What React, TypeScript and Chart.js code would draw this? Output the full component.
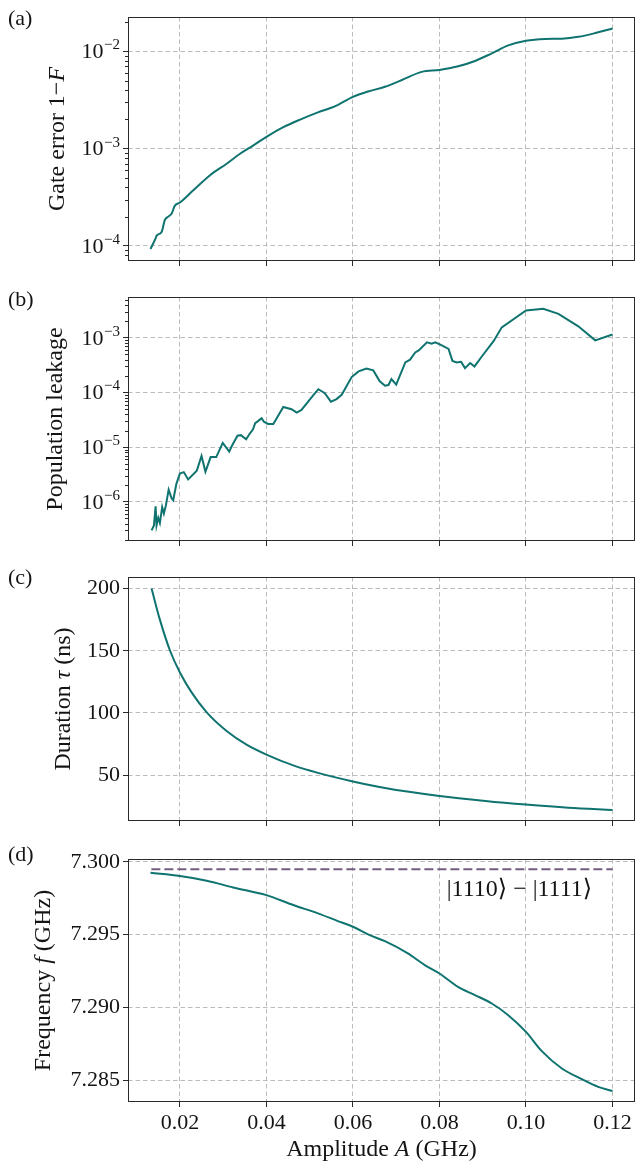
import React, { useEffect, useRef } from 'react';
import { Chart, registerables } from 'chart.js';

Chart.register(...registerables);

const TEAL = '#0f736f';
const PURPLE = '#735d80';
const GRID = '#b3b3b3';
const FRAME = '#2a2a2a';
const TEXT = '#141414';
const SERIF = '"Liberation Serif", "DejaVu Serif", serif';
const CLEAR = 'rgba(0,0,0,0)';

// shared x axis
const xTicks = [0.02, 0.04, 0.06, 0.08, 0.1, 0.12];
const xTickLabels = ['0.02', '0.04', '0.06', '0.08', '0.10', '0.12'];

// (a) gate error
const ampErr = [0.0132, 0.0144, 0.0146, 0.0158, 0.0165, 0.0173, 0.0181, 0.0188, 0.02, 0.0231, 0.0269, 0.0308, 0.0339, 0.037, 0.0401, 0.0439, 0.0478, 0.0519, 0.0558, 0.06, 0.0635, 0.0674, 0.0712, 0.0759, 0.08, 0.0841, 0.0882, 0.0921, 0.0959, 0.1, 0.1044, 0.1083, 0.1121, 0.116, 0.12];
const gateErr = [9.3e-5, 1.2e-4, 1.27e-4, 1.4e-4, 1.84e-4, 2.0e-4, 2.15e-4, 2.58e-4, 2.79e-4, 3.73e-4, 5.3e-4, 7.0e-4, 8.85e-4, 1.08e-3, 1.33e-3, 1.66e-3, 1.99e-3, 2.36e-3, 2.72e-3, 3.41e-3, 3.87e-3, 4.32e-3, 5.05e-3, 6.15e-3, 6.44e-3, 6.97e-3, 7.96e-3, 9.55e-3, 1.15e-2, 1.285e-2, 1.34e-2, 1.35e-2, 1.41e-2, 1.54e-2, 1.72e-2];
const errMajor = [1e-4, 1e-3, 1e-2];
const errExp = ['\u22124', '\u22123', '\u22122'];

// (b) population leakage
const ampLeak = [0.01345, 0.014, 0.01438, 0.0146, 0.015, 0.01537, 0.0159, 0.0163, 0.01676, 0.0174, 0.0181, 0.01845, 0.0192, 0.02, 0.0209, 0.0219, 0.0239, 0.025, 0.0259, 0.0271, 0.0284, 0.0299, 0.0314, 0.032, 0.0333, 0.0341, 0.0353, 0.0361, 0.0369, 0.0374, 0.0379, 0.0384, 0.0389, 0.0394, 0.0404, 0.0416, 0.0439, 0.0458, 0.047, 0.0481, 0.0509, 0.052, 0.0535, 0.0549, 0.0562, 0.0574, 0.0597, 0.0613, 0.0631, 0.0647, 0.0662, 0.0674, 0.0682, 0.0689, 0.07, 0.0721, 0.0732, 0.0744, 0.0752, 0.0771, 0.0782, 0.079, 0.0802, 0.0821, 0.083, 0.084, 0.085, 0.0859, 0.0871, 0.0881, 0.0897, 0.0925, 0.0944, 0.1, 0.104, 0.1075, 0.1121, 0.116, 0.12];
const leakage = [3.0e-7, 3.7e-7, 8.3e-7, 3.7e-7, 5.1e-7, 4.1e-7, 8.0e-7, 6.1e-7, 8.6e-7, 1.67e-6, 1.15e-6, 1.07e-6, 2.16e-6, 3.3e-6, 3.5e-6, 2.57e-6, 3.7e-6, 6.9e-6, 3.55e-6, 6.6e-6, 6.6e-6, 1.2e-5, 8.3e-6, 1.05e-5, 1.62e-5, 1.66e-5, 1.39e-5, 1.74e-5, 2.13e-5, 2.75e-5, 2.93e-5, 3.16e-5, 3.4e-5, 2.93e-5, 2.66e-5, 2.66e-5, 5.45e-5, 4.95e-5, 4.3e-5, 4.8e-5, 9.1e-5, 1.15e-4, 9.75e-5, 6.8e-5, 7.6e-5, 9.1e-5, 1.92e-4, 2.44e-4, 2.76e-4, 2.54e-4, 1.6e-4, 1.33e-4, 1.37e-4, 1.76e-4, 1.39e-4, 3.56e-4, 4.0e-4, 5.4e-4, 5.9e-4, 8.3e-4, 7.85e-4, 8.3e-4, 7.5e-4, 6.3e-4, 3.8e-4, 3.56e-4, 3.66e-4, 2.8e-4, 3.47e-4, 3.0e-4, 4.47e-4, 8.7e-4, 1.56e-3, 3.18e-3, 3.41e-3, 2.76e-3, 1.63e-3, 9.0e-4, 1.15e-3];
const leakMajor = [1e-6, 1e-5, 1e-4, 1e-3];
const leakExp = ['\u22126', '\u22125', '\u22124', '\u22123'];

// (c) duration
const ampDur = [0.01345, 0.01537, 0.0177, 0.02, 0.0227, 0.0262, 0.0308, 0.0354, 0.04, 0.0462, 0.0519, 0.06, 0.0674, 0.08, 0.0906, 0.1, 0.1098, 0.12];
const duration = [200, 175, 150.2, 132.5, 116.5, 100.5, 85.5, 74.5, 66.5, 57.8, 51.8, 44.9, 39.6, 33.2, 29.2, 26.3, 23.8, 22.0];
const durTicks = [50, 100, 150, 200];
const durLabels = ['50', '100', '150', '200'];

// (d) frequency
const ampFreq = [0.0132, 0.02, 0.0262, 0.0323, 0.04, 0.0462, 0.0519, 0.0565, 0.06, 0.0635, 0.0674, 0.0727, 0.0766, 0.08, 0.0843, 0.0882, 0.0921, 0.0959, 0.1, 0.1036, 0.1083, 0.1129, 0.1167, 0.12];
const frequency = [7.29924, 7.29902, 7.2987, 7.29824, 7.29771, 7.29703, 7.29646, 7.29593, 7.29554, 7.29501, 7.29455, 7.29371, 7.29291, 7.29233, 7.29141, 7.29085, 7.29027, 7.28947, 7.28832, 7.28702, 7.28581, 7.28508, 7.28455, 7.28427];
const ampRef = [0.0134, 0.12];
const freqRef = [7.29948, 7.29948];
const freqTicks = [7.285, 7.29, 7.295, 7.3];
const freqLabels = ['7.285', '7.290', '7.295', '7.300'];

type Seg = { t: string; i?: boolean };

interface PanelCfg {
  top: number;
  height: number;
  padTop: number;
  xAxisH: number;
  label: string;
  labelY: number;
  yTitle: Seg[];
  yTitleX: number;
  xTitle?: Seg[];
  xTitleY?: number;
  showXLabels: boolean;
  log: boolean;
  yMin: number;
  yMax: number;
  yTicks: number[];
  yLabels: string[];
  logExp?: string[];
  datasets: any[];
  annotation?: { text: string; x: number; y: number };
}

const toPts = (xs: number[], ys: number[]) => xs.map((x, i) => ({ x, y: ys[i] }));

function logMinors(min: number, max: number): number[] {
  const out: number[] = [];
  for (let e = Math.floor(Math.log10(min)); e <= Math.ceil(Math.log10(max)); e++) {
    for (let k = 2; k <= 9; k++) {
      const v = k * Math.pow(10, e);
      if (v >= min && v <= max) out.push(v);
    }
  }
  return out;
}

function drawSegs(ctx: CanvasRenderingContext2D, segs: Seg[], x: number, y: number, rot: number, size: number) {
  ctx.save();
  ctx.translate(x, y);
  ctx.rotate(rot);
  ctx.textBaseline = 'middle';
  ctx.textAlign = 'left';
  ctx.fillStyle = TEXT;
  const fontOf = (s: Seg) => `${s.i ? 'italic ' : ''}${size}px ${SERIF}`;
  let total = 0;
  const widths = segs.map((s) => {
    ctx.font = fontOf(s);
    const w = ctx.measureText(s.t).width;
    total += w;
    return w;
  });
  let cx = -total / 2;
  segs.forEach((s, i) => {
    ctx.font = fontOf(s);
    ctx.fillText(s.t, cx, 0);
    cx += widths[i];
  });
  ctx.restore();
}

function decoPlugin(cfg: PanelCfg, minors: number[]) {
  return {
    id: 'deco',
    afterDraw(chart: any) {
      const ctx: CanvasRenderingContext2D = chart.ctx;
      const ca = chart.chartArea;
      const ys = chart.scales.y;
      const xs = chart.scales.x;
      ctx.save();
      ctx.setLineDash([]);
      ctx.strokeStyle = FRAME;
      ctx.lineWidth = 1;
      ctx.strokeRect(Math.round(ca.left) + 0.5, Math.round(ca.top) + 0.5, Math.round(ca.right - ca.left) - 1, Math.round(ca.bottom - ca.top) - 1);
      // minor ticks on log axes
      minors.forEach((v) => {
        const y = Math.round(ys.getPixelForValue(v)) + 0.5;
        ctx.beginPath();
        ctx.moveTo(ca.left - 3, y);
        ctx.lineTo(ca.left, y);
        ctx.stroke();
      });
      // log labels 10^n
      if (cfg.log && cfg.logExp) {
        ctx.fillStyle = TEXT;
        ctx.textBaseline = 'middle';
        ctx.textAlign = 'right';
        const right = ca.left - 8;
        cfg.yTicks.forEach((v, i) => {
          const y = ys.getPixelForValue(v);
          ctx.font = `15px ${SERIF}`;
          const sup = cfg.logExp![i];
          const sw = ctx.measureText(sup).width;
          ctx.fillText(sup, right, y - 6);
          ctx.font = `22px ${SERIF}`;
          ctx.fillText('10', right - sw - 0.5, y + 1);
        });
      }
      // y title
      drawSegs(ctx, cfg.yTitle, cfg.yTitleX, (ca.top + ca.bottom) / 2, -Math.PI / 2, 24);
      // x title
      if (cfg.xTitle) drawSegs(ctx, cfg.xTitle, (ca.left + ca.right) / 2, cfg.xTitleY!, 0, 24);
      // panel label
      ctx.fillStyle = TEXT;
      ctx.font = `22px ${SERIF}`;
      ctx.textAlign = 'left';
      ctx.textBaseline = 'middle';
      ctx.fillText(cfg.label, 8, cfg.labelY);
      // annotation
      if (cfg.annotation) {
        ctx.font = `24px ${SERIF}`;
        ctx.textAlign = 'center';
        ctx.fillText(cfg.annotation.text, xs.getPixelForValue(cfg.annotation.x), ys.getPixelForValue(cfg.annotation.y));
      }
      ctx.restore();
    },
  };
}

function Panel({ cfg }: { cfg: PanelCfg }) {
  const ref = useRef<HTMLCanvasElement>(null);
  useEffect(() => {
    const canvas = ref.current;
    if (!canvas) return;
    const minors = cfg.log ? logMinors(cfg.yMin, cfg.yMax) : [];
    const isMajorY = (v: number) => cfg.yTicks.some((t) => Math.abs(t - v) < Math.abs(t) * 1e-6);
    const allY = [...cfg.yTicks, ...minors].sort((a, b) => a - b);
    const chart = new Chart(canvas, {
      type: 'line',
      data: { datasets: cfg.datasets },
      plugins: [decoPlugin(cfg, minors)],
      options: {
        animation: false,
        responsive: false,
        devicePixelRatio: 1,
        layout: { padding: { top: cfg.padTop, right: 2, left: 0, bottom: 0 } },
        plugins: { legend: { display: false }, tooltip: { enabled: false } },
        elements: { point: { radius: 0 } },
        scales: {
          x: {
            type: 'linear',
            min: 0.008,
            max: 0.1252,
            afterBuildTicks: (s: any) => {
              s.ticks = xTicks.map((v) => ({ value: v }));
            },
            afterFit: (s: any) => {
              s.height = cfg.xAxisH;
              s.paddingLeft = 0;
              s.paddingRight = 0;
            },
            grid: { color: GRID, lineWidth: 0.9, tickLength: 5, tickColor: FRAME, tickWidth: 1 },
            border: { display: false, dash: [4.5, 3] },
            ticks: {
              display: cfg.showXLabels,
              autoSkip: false,
              maxRotation: 0,
              padding: 3,
              color: TEXT,
              font: { family: SERIF, size: 22 },
              callback: (_v: any, i: number) => xTickLabels[i],
            },
          },
          y: {
            type: cfg.log ? 'logarithmic' : 'linear',
            min: cfg.yMin,
            max: cfg.yMax,
            afterBuildTicks: (s: any) => {
              s.ticks = allY.map((v) => ({ value: v, major: isMajorY(v) }));
            },
            afterFit: (s: any) => {
              s.width = 128;
              s.paddingTop = 0;
              s.paddingBottom = 0;
            },
            grid: {
              color: (c: any) => (c.tick && isMajorY(c.tick.value) ? GRID : CLEAR),
              lineWidth: 0.9,
              tickLength: 5,
              tickColor: (c: any) => (c.tick && isMajorY(c.tick.value) ? FRAME : CLEAR),
              tickWidth: 1,
            },
            border: { display: false, dash: [4.5, 3] },
            ticks: {
              autoSkip: false,
              padding: 3,
              color: TEXT,
              font: { family: SERIF, size: 22 },
              callback: (v: any) => {
                if (cfg.log) return '';
                const idx = cfg.yTicks.findIndex((t) => Math.abs(t - v) < 1e-9);
                return idx >= 0 ? cfg.yLabels[idx] : '';
              },
            },
          },
        },
      } as any,
    });
    return () => chart.destroy();
  }, []);
  return (
    <canvas
      ref={ref}
      width={637}
      height={cfg.height}
      style={{ position: 'absolute', left: 0, top: cfg.top, width: 637, height: cfg.height, display: 'block' }}
    />
  );
}

const lineDs = (xs: number[], ys: number[], extra: any = {}) => ({
  data: toPts(xs, ys),
  borderColor: TEAL,
  borderWidth: 2,
  pointRadius: 0,
  fill: false,
  tension: 0,
  ...extra,
});

const panels: PanelCfg[] = [
  {
    top: 0, height: 280, padTop: 17, xAxisH: 19, label: '(a)', labelY: 19,
    yTitle: [{ t: 'Gate error 1\u2212' }, { t: 'F', i: true }], yTitleX: 58,
    showXLabels: false, log: true, yMin: 7.36e-5, yMax: 2.254e-2,
    yTicks: errMajor, yLabels: [], logExp: errExp,
    datasets: [lineDs(ampErr, gateErr, { cubicInterpolationMode: 'monotone' })],
  },
  {
    top: 280, height: 280, padTop: 17, xAxisH: 19, label: '(b)', labelY: 20,
    yTitle: [{ t: 'Population leakage' }], yTitleX: 56,
    showXLabels: false, log: true, yMin: 1.92e-7, yMax: 5.6e-3,
    yTicks: leakMajor, yLabels: [], logExp: leakExp,
    datasets: [lineDs(ampLeak, leakage)],
  },
  {
    top: 560, height: 280, padTop: 17, xAxisH: 19, label: '(c)', labelY: 18,
    yTitle: [{ t: 'Duration ' }, { t: '\u03c4', i: true }, { t: ' (ns)' }], yTitleX: 64,
    showXLabels: false, log: false, yMin: 13.1, yMax: 209.3,
    yTicks: durTicks, yLabels: durLabels,
    datasets: [lineDs(ampDur, duration, { cubicInterpolationMode: 'monotone' })],
  },
  {
    top: 840, height: 323, padTop: 19, xAxisH: 61, label: '(d)', labelY: 15,
    yTitle: [{ t: 'Frequency ' }, { t: 'f', i: true }, { t: ' (GHz)' }], yTitleX: 44,
    xTitle: [{ t: 'Amplitude ' }, { t: 'A', i: true }, { t: ' (GHz)' }], xTitleY: 310,
    showXLabels: true, log: false, yMin: 7.28351, yMax: 7.30019,
    yTicks: freqTicks, yLabels: freqLabels,
    annotation: { text: '|1110\u27e9 \u2212 |1111\u27e9', x: 0.0985, y: 7.2981 },
    datasets: [
      lineDs(ampRef, freqRef, { borderColor: PURPLE, borderDash: [9, 4] }),
      lineDs(ampFreq, frequency, { cubicInterpolationMode: 'monotone' }),
    ],
  },
];

export default function App() {
  return (
    <div style={{ position: 'absolute', left: 0, top: 0, width: 637, height: 1163, background: '#ffffff' }}>
      {panels.map((p) => (
        <Panel key={p.label} cfg={p} />
      ))}
    </div>
  );
}
